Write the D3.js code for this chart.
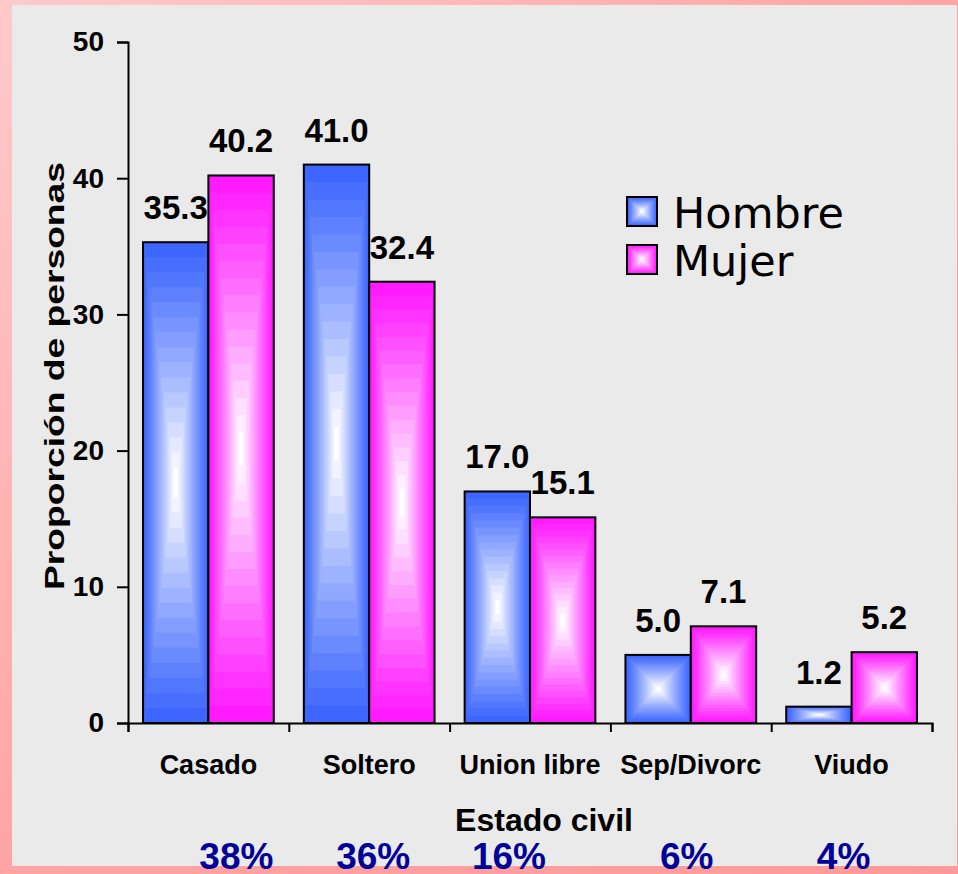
<!DOCTYPE html>
<html>
<head>
<meta charset="utf-8">
<script src="https://cdn.jsdelivr.net/npm/d3@7"></script>
<style>
  body { margin: 0; background: #fff; }
  svg { display: block; }
  text { font-family: "Liberation Sans", Arial, sans-serif; }
</style>
</head>
<body>
<svg id="chart"></svg>
<script>
// Values.
const categories = ["Casado", "Soltero", "Union libre", "Sep/Divorc", "Viudo"];
const seriesNames = ["Hombre", "Mujer"];
const hombre = [35.3, 41.0, 17.0, 5.0, 1.2];
const mujer = [40.2, 32.4, 15.1, 7.1, 5.2];
const shares = ["38%", "36%", "16%", "6%", "4%"];
const yTicks = [0, 10, 20, 30, 40, 50];

// The percentages sit in loose text boxes, not exactly under each category.
const shareNudge = [28, 4, -21, -4, -8];

const W = 958, H = 874;
const plot = { left: 128, right: 932, top: 42, bottom: 723 };
const colors = { Hombre: "#3d66ff", Mujer: "#ff1aff" };

const svg = d3.select("#chart").attr("width", W).attr("height", H);
const defs = svg.append("defs");

// pink slide frame behind a light grey panel
const frame = defs.append("linearGradient")
    .attr("id", "frame")
    .attr("x1", 0).attr("y1", 0).attr("x2", 1).attr("y2", 1);
frame.append("stop").attr("offset", 0).attr("stop-color", "#ffcaca");
frame.append("stop").attr("offset", 0.5).attr("stop-color", "#ffa4a4");
frame.append("stop").attr("offset", 1).attr("stop-color", "#ff9999");

svg.append("rect").attr("width", W).attr("height", H).attr("fill", "url(#frame)");
svg.append("rect")
    .attr("x", 12).attr("y", 5)
    .attr("width", 945).attr("height", 861)
    .attr("fill", "#eaeaea");

const x0 = d3.scaleBand()
    .domain(categories)
    .range([plot.left, plot.right])
    .padding(0);

const x1 = d3.scaleBand()
    .domain(seriesNames)
    .range([0, x0.bandwidth()])
    .paddingInner(0)
    .paddingOuter(0.23);

const y = d3.scaleLinear()
    .domain([0, 50])
    .range([plot.bottom, plot.top]);

// PowerPoint style "from centre" fill: concentric rectangles, colour to white.
function boxFill(g, x, yTop, w, h, color) {
    const steps = 16;
    const mix = d3.interpolateRgb(color, "#ffffff");
    for (let i = 0; i < steps; i++) {
        const t = i / steps;
        const dx = t * w / 2, dy = t * h / 2;
        g.append("rect")
            .attr("x", x + dx).attr("y", yTop + dy)
            .attr("width", Math.max(0, w - 2 * dx))
            .attr("height", Math.max(0, h - 2 * dy))
            .attr("fill", mix(Math.pow(i / (steps - 1), 1.1)));
    }
    g.append("rect")
        .attr("x", x).attr("y", yTop)
        .attr("width", w).attr("height", h)
        .attr("fill", "none")
        .attr("stroke", "#000")
        .attr("stroke-width", 2);
}

const rows = categories.map((c, i) => ({
    category: c,
    values: [
        { series: "Hombre", value: hombre[i] },
        { series: "Mujer", value: mujer[i] }
    ]
}));

const groups = svg.append("g").selectAll("g")
    .data(rows)
    .join("g")
    .attr("transform", d => `translate(${x0(d.category)},0)`);

groups.each(function (d) {
    const g = d3.select(this);
    d.values.forEach(v => {
        const bx = x1(v.series);
        const by = y(v.value);
        boxFill(g.append("g"), bx, by, x1.bandwidth(), y(0) - by, colors[v.series]);
        g.append("text")
            .attr("x", bx + x1.bandwidth() / 2)
            .attr("y", by - 23)
            .attr("text-anchor", "middle")
            .attr("font-size", 33)
            .attr("font-weight", "bold")
            .text(d3.format(".1f")(v.value));
    });
});

// Axes
const yAxis = svg.append("g")
    .attr("transform", `translate(${plot.left},0)`)
    .call(d3.axisLeft(y).tickValues(yTicks).tickSize(11).tickPadding(13));
yAxis.selectAll("text")
    .attr("font-size", 28)
    .attr("font-weight", "bold")
    .attr("fill", "#000")
    .style("font-family", "'Liberation Sans', Arial, sans-serif");

const xTicks = categories.map(c => x0(c)).concat([plot.right]);
svg.append("g")
    .attr("transform", `translate(0,${plot.bottom})`)
    .call(d3.axisBottom(d3.scaleLinear().domain([plot.left, plot.right]).range([plot.left, plot.right]))
        .tickValues(xTicks).tickSize(9).tickFormat(""));

svg.selectAll(".domain, .tick line")
    .attr("stroke", "#000")
    .attr("stroke-width", 2);

// category names
svg.append("g").selectAll("text")
    .data(categories)
    .join("text")
    .attr("x", d => x0(d) + x0.bandwidth() / 2)
    .attr("y", 774)
    .attr("text-anchor", "middle")
    .attr("font-size", 27)
    .attr("font-weight", "bold")
    .text(d => d);

// axis titles
svg.append("text")
    .attr("x", (plot.left + plot.right) / 2 + 14)
    .attr("y", 831)
    .attr("text-anchor", "middle")
    .attr("font-size", 32)
    .attr("font-weight", "bold")
    .text("Estado civil");

svg.append("text")
    .attr("transform", "translate(64,376) rotate(-90)")
    .attr("text-anchor", "middle")
    .attr("font-size", 28)
    .attr("font-weight", "bold")
    .attr("textLength", 428)
    .attr("lengthAdjust", "spacingAndGlyphs")
    .text("Proporción de personas");

// legend
const legend = svg.append("g").attr("transform", "translate(627,197)");
seriesNames.forEach((s, i) => {
    const lg = legend.append("g").attr("transform", `translate(0,${i * 48})`);
    boxFill(lg, 0, 0, 30, 29, colors[s]);
    lg.append("text")
        .attr("x", 46)
        .attr("y", 31)
        .attr("font-size", 43)
        .style("font-family", "'DejaVu Sans', Verdana, sans-serif")
        .text(s);
});

// shares along the bottom
svg.append("g").selectAll("text")
    .data(shares)
    .join("text")
    .attr("x", (d, i) => x0(categories[i]) + x0.bandwidth() / 2 + shareNudge[i])
    .attr("y", 869)
    .attr("text-anchor", "middle")
    .attr("font-size", 37)
    .attr("font-weight", "bold")
    .attr("fill", "#000099")
    .text(d => d);
</script>
</body>
</html>
